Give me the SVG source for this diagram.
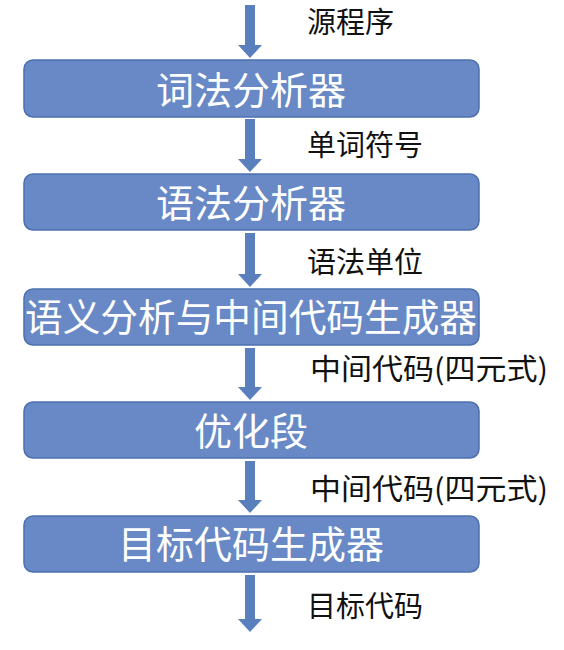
<svg xmlns="http://www.w3.org/2000/svg" width="564" height="650" viewBox="0 0 564 650">
<style>
.box{fill:#6889c6;stroke:#4c70ae;stroke-width:1.5}
.bt{font-family:"Noto Sans CJK SC","Liberation Sans",sans-serif;font-size:38px;fill:#fff;text-anchor:middle}
.lt{font-family:"Noto Sans CJK SC","Liberation Sans",sans-serif;font-size:29px;fill:#111}
.arr{fill:#5a7fbd}
</style>
<rect width="564" height="650" fill="#fff"/>
<g id="connectors">
<path class="arr" d="M245,5h10v40h7l-12,13l-12,-13h7z"/>
<path class="arr" d="M245,119h10v40h7l-12,13l-12,-13h7z"/>
<path class="arr" d="M245,233h10v41h7l-12,13l-12,-13h7z"/>
<path class="arr" d="M245,348h10v39h7l-12,13l-12,-13h7z"/>
<path class="arr" d="M245,461h10v39h7l-12,13l-12,-13h7z"/>
<path class="arr" d="M245,575h10v44h7l-12,13l-12,-13h7z"/>
</g>
<g id="labels">
<text class="lt" x="307" y="33">源程序</text>
<text class="lt" x="307" y="156">单词符号</text>
<text class="lt" x="307" y="273">语法单位</text>
<text class="lt" x="310" y="380" textLength="238" lengthAdjust="spacingAndGlyphs">中间代码(四元式)</text>
<text class="lt" x="310" y="500" textLength="238" lengthAdjust="spacingAndGlyphs">中间代码(四元式)</text>
<text class="lt" x="307" y="617">目标代码</text>
</g>
<g id="n1"><rect class="box" x="24" y="60" width="455" height="57" rx="9"/><text class="bt" x="251" y="104">词法分析器</text></g>
<g id="n2"><rect class="box" x="24" y="174" width="455" height="56" rx="9"/><text class="bt" x="251" y="217">语法分析器</text></g>
<g id="n3"><rect class="box" x="24" y="289" width="455" height="56" rx="9"/><text class="bt" x="251" y="331" textLength="452" lengthAdjust="spacingAndGlyphs">语义分析与中间代码生成器</text></g>
<g id="n4"><rect class="box" x="24" y="402" width="455" height="56" rx="9"/><text class="bt" x="251" y="445">优化段</text></g>
<g id="n5"><rect class="box" x="24" y="516" width="455" height="56" rx="9"/><text class="bt" x="251" y="558">目标代码生成器</text></g>
</svg>
